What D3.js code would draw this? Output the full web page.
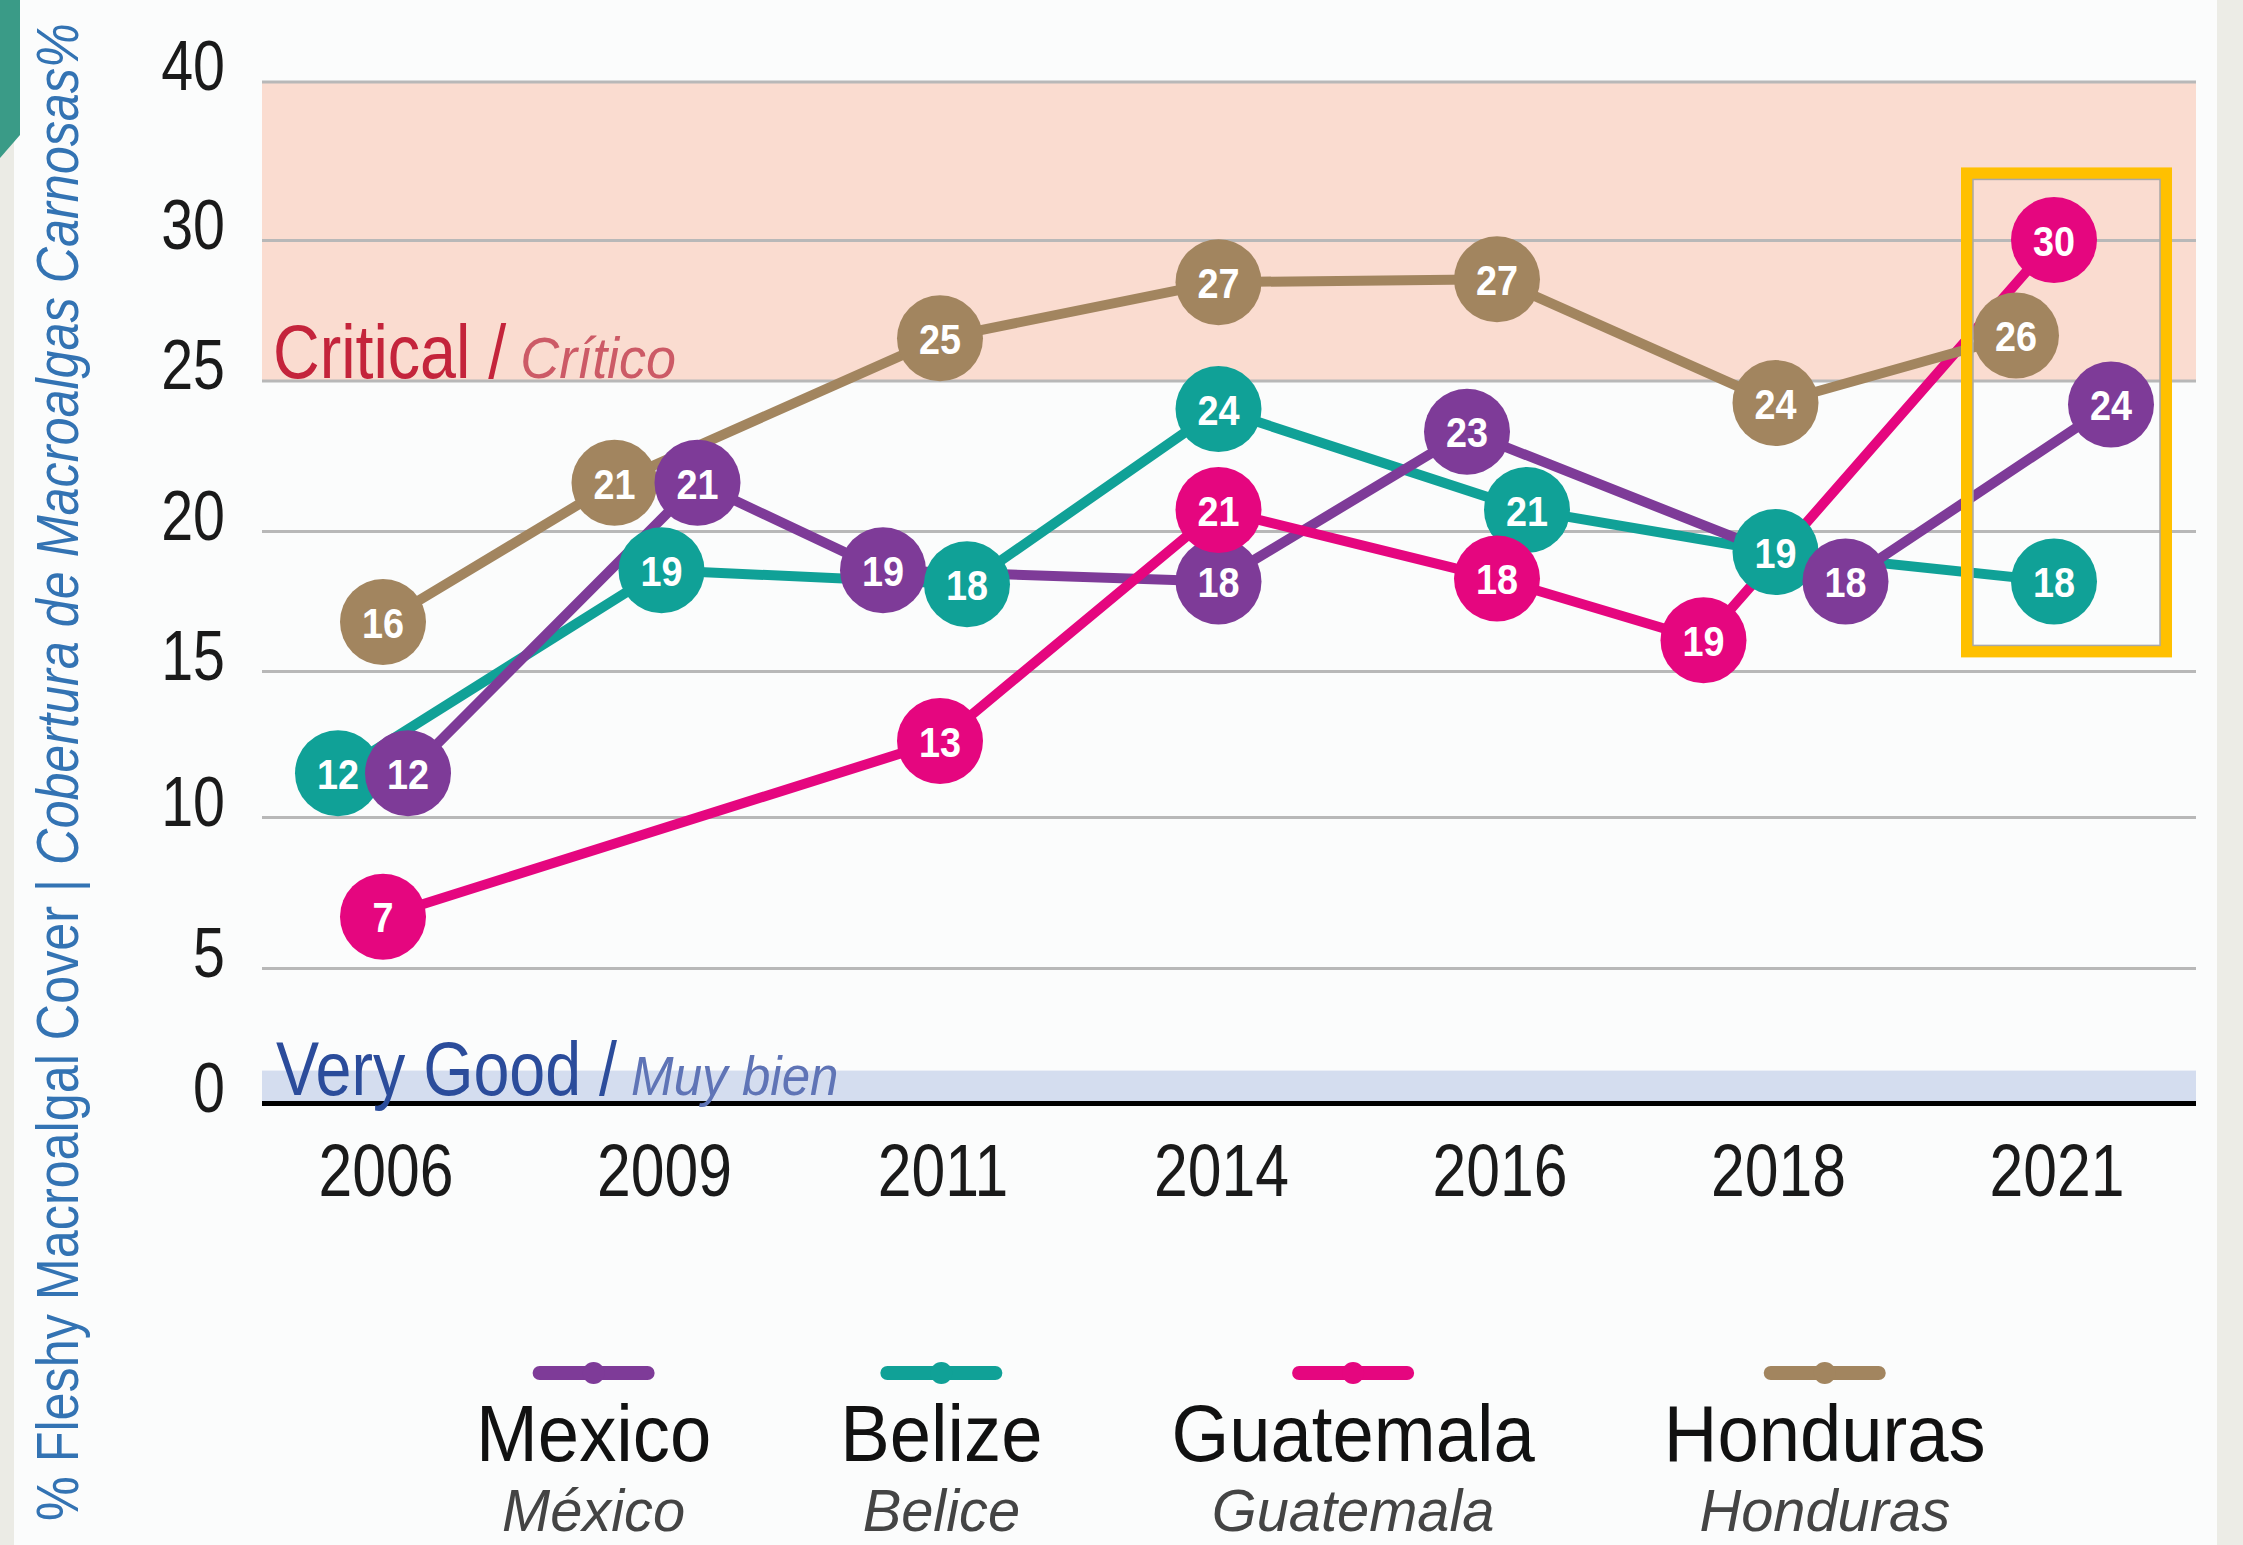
<!DOCTYPE html>
<html>
<head>
<meta charset="utf-8">
<script src="https://cdn.jsdelivr.net/npm/d3@7"></script>
<title>Fleshy Macroalgal Cover</title>
<style>
  body { margin: 0; background: #fbfcfc; }
</style>
</head>
<body>
<svg width="2243" height="1545" id="mainsvg"></svg>
<script>
// ---- data ----
const years = ['2006', '2009', '2011', '2014', '2016', '2018', '2021'];
const yTicks = [0, 5, 10, 15, 20, 25, 30, 40];

// numbers printed in the bubbles
const mexicoLabels    = [12, 21, 19, 18, 23, 18, 24];
const belizeLabels    = [12, 19, 18, 24, 21, 19, 18];
const guatemalaLabels = [7, null, 13, 21, 18, 19, 30];
const hondurasLabels  = [16, 21, 25, 27, 27, 24, 26];

// where the bubbles actually sit against the axis
const mexicoValues    = [11.5, 21.6, 18.6, 18.2, 23.3, 18.2, 24.2];
const belizeValues    = [11.5, 18.6, 18.1, 24.05, 20.7, 19.25, 18.2];
const guatemalaValues = [6.7, null, 12.6, 20.7, 18.3, 16.1, 30.0];
const hondurasValues  = [16.75, 21.6, 26.5, 28.5, 28.6, 24.25, 26.6];

// ---- setup ----
let svg = d3.select('#mainsvg');
const width = +svg.attr('width');
const height = +svg.attr('height');

const sans = '"Liberation Sans", Arial, sans-serif';
const SX = 0.82;   // horizontal squeeze to fake a condensed face

const left = 262, right = 2196;

let x = d3.scalePoint().domain(years).range([383, 2054]);
// the printed axis is not quite even, so map each tick to its own place
let y = d3.scaleLinear().domain(yTicks).range([1103, 968, 817, 671, 531, 380.5, 240, 81.5]);

// series draw order (later ones on top); dx = sideways nudge of bubbles
let series = [
  {en: 'Belize', es: 'Belice', color: '#10a197', values: belizeValues, labels: belizeLabels,
   dx: [-45, 0, 27, 0, 30, 0, 0]},
  {en: 'Mexico', es: 'México', color: '#7e3b98', values: mexicoValues, labels: mexicoLabels,
   dx: [25, 36, -57, 0, -30, 70, 57]},
  {en: 'Guatemala', es: 'Guatemala', color: '#e5067f', values: guatemalaValues, labels: guatemalaLabels,
   dx: [0, 0, 0, 0, 0, -72, 0]},
  {en: 'Honduras', es: 'Honduras', color: '#a2855f', values: hondurasValues, labels: hondurasLabels,
   dx: [0, -47, 0, 0, 0, 0, -38]}
];
const legendOrder = ['Mexico', 'Belize', 'Guatemala', 'Honduras'];
// bubbles that sit above their neighbours in the original
const onTop = ['Belize 2011', 'Mexico 2009'];

// place a text at (px,py) squeezed horizontally by sx
function squeezed(sel, px, py, sx) {
  return sel.attr('x', 0).attr('y', 0)
    .attr('transform', `translate(${px},${py}) scale(${sx},1)`);
}

// ---- page decoration ----
svg.append('rect').attr('width', width).attr('height', height).attr('fill', '#fbfcfc');
svg.append('rect').attr('x', 0).attr('y', 0).attr('width', 14).attr('height', height).attr('fill', '#ebebe5');
svg.append('rect').attr('x', 2217).attr('y', 0).attr('width', 26).attr('height', height).attr('fill', '#ececE6');
svg.append('polygon').attr('points', '0,0 20,0 20,135 0,158').attr('fill', '#3a9b87');

// ---- bands ----
svg.append('rect')
  .attr('x', left).attr('y', y(40))
  .attr('width', right - left).attr('height', y(25) - y(40))
  .attr('fill', '#fadcd0');
svg.append('rect')
  .attr('x', left).attr('y', y(1.2))
  .attr('width', right - left).attr('height', y(0) - y(1.2))
  .attr('fill', '#d4ddef');

// ---- y axis ----
let yAxis = svg.append('g')
  .attr('transform', `translate(${left},0)`)
  .call(d3.axisLeft(y).tickValues(yTicks).tickSize(-(right - left)).tickPadding(37));
yAxis.select('.domain').remove();
yAxis.selectAll('.tick line')
  .attr('stroke', d => d === 0 ? '#000' : '#b8b8b8')
  .attr('stroke-width', d => d === 0 ? 5 : 3);
yAxis.selectAll('.tick text')
  .attr('x', -37 / SX)
  .attr('dy', '0.12em')
  .attr('transform', `scale(${SX},1)`)
  .attr('fill', '#1a1a1a')
  .style('font-family', sans)
  .style('font-size', '70px');

// ---- x axis ----
let xAxis = svg.append('g')
  .attr('transform', `translate(0,${y(0)})`)
  .call(d3.axisBottom(x).tickSize(0).tickPadding(40));
xAxis.select('.domain').remove();
xAxis.selectAll('.tick')
  .attr('transform', d => `translate(${x(d) + 3},0)`);
xAxis.selectAll('.tick text')
  .attr('transform', `scale(${SX},1)`)
  .attr('fill', '#1a1a1a')
  .style('font-family', sans)
  .style('font-size', '74px');

// ---- band labels ----
function bandLabel(px, py, main, sub, c1, c2, subSize) {
  let g = svg.append('g');
  let t1 = squeezed(g.append('text'), px, py, 0.85)
    .attr('fill', c1).style('font-family', sans).style('font-size', '76px')
    .text(main + ' /');
  let w = t1.node().getComputedTextLength() * 0.85;
  squeezed(g.append('text'), px + w + 14, py, 0.93)
    .attr('fill', c2).style('font-family', sans).style('font-size', subSize + 'px')
    .style('font-style', 'italic')
    .text(sub);
}
bandLabel(273, y(25) - 3, 'Critical', 'Crítico', '#c4243b', '#cc5a66', 58);
bandLabel(276, y(0) - 8, 'Very Good', 'Muy bien', '#2b4c9b', '#5f74b6', 55);

// ---- y title ----
let ytitle = svg.append('text')
  .attr('x', 0).attr('y', 0)
  .attr('fill', '#3373b3')
  .style('font-family', sans)
  .style('font-size', '60px');
ytitle.append('tspan').text('% Fleshy Macroalgal Cover | ');
ytitle.append('tspan').text('Cobertura de Macroalgas Carnosas%').style('font-style', 'italic');
const titleSX = 1498 / ytitle.node().getComputedTextLength();
ytitle.attr('transform', `translate(78,1521) rotate(-90) scale(${titleSX},1)`);

// ---- series ----
let line = d3.line().x(d => d.x).y(d => d.y);

let points = [];
series.forEach((s, si) => {
  let pts = years.map((yr, i) => ({
    x: x(yr) + s.dx[i],
    y: s.values[i] == null ? null : y(s.values[i]),
    label: s.labels[i],
    color: s.color,
    z: si + (onTop.includes(s.en + ' ' + yr) ? 10 : 0)
  })).filter(d => d.y != null);
  points = points.concat(pts);

  svg.append('path')
    .attr('d', line(pts))
    .attr('fill', 'none')
    .attr('stroke', s.color)
    .attr('stroke-width', 10)
    .attr('stroke-linejoin', 'round');
});

points.sort((a, b) => a.z - b.z);
let bubbles = svg.selectAll('.bubble').data(points).join('g')
  .attr('class', 'bubble')
  .attr('transform', d => `translate(${d.x},${d.y})`);
bubbles.append('circle')
  .attr('r', 43)
  .attr('fill', d => d.color);
bubbles.append('text')
  .attr('y', 1)
  .attr('transform', 'scale(0.9,1)')
  .attr('text-anchor', 'middle')
  .attr('dominant-baseline', 'central')
  .attr('fill', '#fff')
  .style('font-family', sans)
  .style('font-weight', 'bold')
  .style('font-size', '42px')
  .text(d => d.label);

// ---- highlight box around 2021 ----
const boxX = x('2021') - 87;
const boxTop = y(34.2), boxBottom = y(15.7);
svg.append('rect')
  .attr('x', boxX).attr('y', boxTop)
  .attr('width', 199).attr('height', boxBottom - boxTop)
  .attr('fill', 'none')
  .attr('stroke', '#ffc000')
  .attr('stroke-width', 12);
svg.append('rect')
  .attr('x', boxX + 6).attr('y', boxTop + 6)
  .attr('width', 187).attr('height', boxBottom - boxTop - 12)
  .attr('fill', 'none')
  .attr('stroke', '#a8a8a8')
  .attr('stroke-width', 1.5);

// ---- legend ----
let legend = svg.append('g');
let cursor = 476;
legendOrder.forEach(name => {
  let s = series.find(d => d.en === name);
  let item = legend.append('g');
  let en = item.append('text')
    .attr('text-anchor', 'middle').attr('fill', '#111')
    .style('font-family', sans).style('font-size', '79px')
    .text(s.en);
  let es = item.append('text')
    .attr('text-anchor', 'middle').attr('fill', '#444')
    .style('font-family', sans).style('font-size', '59px').style('font-style', 'italic')
    .text(s.es);
  let w = Math.max(en.node().getComputedTextLength() * 0.94, es.node().getComputedTextLength() * 0.98);
  let cx = cursor + w / 2;
  squeezed(en, cx, 1461, 0.94);
  squeezed(es, cx, 1531, 0.98);
  item.append('line')
    .attr('x1', cx - 54).attr('x2', cx + 54)
    .attr('y1', 1373).attr('y2', 1373)
    .attr('stroke', s.color).attr('stroke-width', 14).attr('stroke-linecap', 'round');
  item.append('circle').attr('cx', cx).attr('cy', 1373).attr('r', 11).attr('fill', s.color);
  cursor += w + 129;
});
</script>
</body>
</html>
